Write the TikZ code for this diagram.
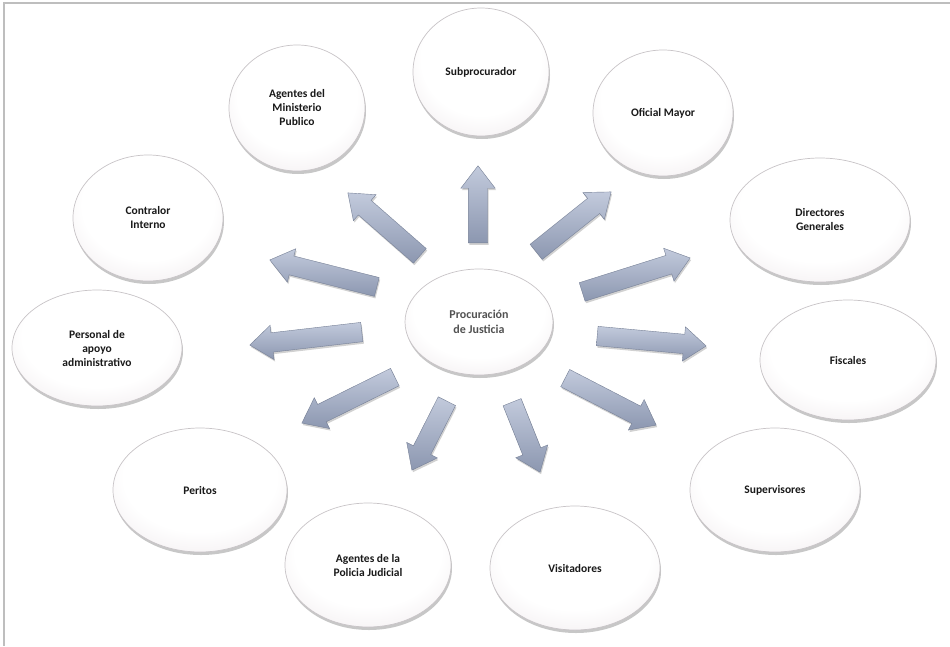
\documentclass[tikz,border=0pt]{standalone}
\usepackage{fontspec}
\setmainfont{Carlito}
\usetikzlibrary{shapes.geometric,shapes.arrows,shadows,calc}
\definecolor{framegray}{RGB}{190,190,190}
\definecolor{ballmid}{RGB}{238,232,235}
\definecolor{balledge}{RGB}{214,207,211}
\definecolor{ballline}{RGB}{200,196,199}
\definecolor{arrlight}{RGB}{194,202,220}
\definecolor{arrdark}{RGB}{140,151,176}
\definecolor{arrline}{RGB}{118,128,150}
\definecolor{txt}{RGB}{25,25,25}
\pgfdeclareradialshading{ballshade}{\pgfpoint{0bp}{8bp}}{%
  color(0bp)=(white); color(22bp)=(white); color(38bp)=(ballmid);
  color(50bp)=(balledge); color(60bp)=(balledge)}
\newcommand{\blockarrow}[3]{%
  \path let \p1=(#2), \p2=(#3), \n1={atan2(\y2-\y1,\x2-\x1)}, \n2={veclen(\x2-\x1,\y2-\y1)} in
    node[blockarr, rotate=\n1, minimum height=\n2] (#1) at (\p1) {};}
\begin{document}
\begin{tikzpicture}[x=1pt,y=-1pt,
  ball/.style={ellipse, inner sep=0pt, align=center,
    font=\bfseries\fontsize{11.5}{14}\selectfont, text=txt,
    draw=ballline, line width=0.7pt, shading=ballshade,
    drop shadow={shadow xshift=1pt, shadow yshift=-3pt, opacity=0.22, fill=black}},
  blockarr/.style={single arrow, inner xsep=0pt, inner ysep=9.5pt,
    minimum width=34pt, single arrow head extend=7.5pt, single arrow tip angle=75,
    top color=arrlight, bottom color=arrdark, draw=arrline, line width=0.4pt,
    anchor=tail,
    drop shadow={shadow xshift=1pt, shadow yshift=-2pt, opacity=0.18, fill=black}}
]
\useasboundingbox (0,0) rectangle (950,646);
\fill[white] (0,0) rectangle (950,646);
\draw[framegray, line width=1.5pt] (950,3) -- (4,3) -- (4,646);

% outer balls
\node[ball, minimum width=136pt, minimum height=128pt] (sub) at (481,72) {Subprocurador};
\node[ball, minimum width=140pt, minimum height=126pt] (ofi) at (663,113) {Oficial Mayor};
\node[ball, minimum width=180pt, minimum height=124pt] (dir) at (820,220) {Directores\\Generales};
\node[ball, minimum width=176pt, minimum height=120pt] (fis) at (848,360) {Fiscales};
\node[ball, minimum width=170pt, minimum height=124pt] (sup) at (775,490) {Supervisores};
\node[ball, minimum width=170pt, minimum height=124pt] (vis) at (575,568) {Visitadores};
\node[ball, minimum width=166pt, minimum height=124pt] (pol) at (368,565) {Agentes de la\\Policia Judicial};
\node[ball, minimum width=174pt, minimum height=124pt] (per) at (200,490) {Peritos};
\node[ball, minimum width=170pt, minimum height=116pt] (pap) at (97,348) {Personal de\\apoyo\\administrativo};
\node[ball, minimum width=150pt, minimum height=126pt] (con) at (148,218) {Contralor\\Interno};
\node[ball, minimum width=136pt, minimum height=126pt] (amp) at (297,108) {Agentes del\\Ministerio\\Publico};

% center ball
\node[ball, minimum width=148pt, minimum height=106pt,
  font=\bfseries\fontsize{12}{14.5}\selectfont, text=black!68] (pj) at (479,322) {Procuración\\de Justicia};

% arrow ends
\coordinate (t1) at (478,243);  \coordinate (h1) at (478,166);
\coordinate (t2) at (536,252);  \coordinate (h2) at (611,192);
\coordinate (t3) at (582,292);  \coordinate (h3) at (690,258);
\coordinate (t4) at (597,336);  \coordinate (h4) at (706,346);
\coordinate (t5) at (565,378);  \coordinate (h5) at (656,425);
\coordinate (t6) at (512,402);  \coordinate (h6) at (540,472);
\coordinate (t7) at (447,401);  \coordinate (h7) at (412,470);
\coordinate (t8) at (395,377);  \coordinate (h8) at (302,423);
\coordinate (t9) at (362,332);  \coordinate (h9) at (250,345);
\coordinate (t10) at (377,287); \coordinate (h10) at (270,260);
\coordinate (t11) at (420,256); \coordinate (h11) at (348,193);

\blockarrow{a1}{t1}{h1}
\blockarrow{a2}{t2}{h2}
\blockarrow{a3}{t3}{h3}
\blockarrow{a4}{t4}{h4}
\blockarrow{a5}{t5}{h5}
\blockarrow{a6}{t6}{h6}
\blockarrow{a7}{t7}{h7}
\blockarrow{a8}{t8}{h8}
\blockarrow{a9}{t9}{h9}
\blockarrow{a10}{t10}{h10}
\blockarrow{a11}{t11}{h11}
\end{tikzpicture}
\end{document}
